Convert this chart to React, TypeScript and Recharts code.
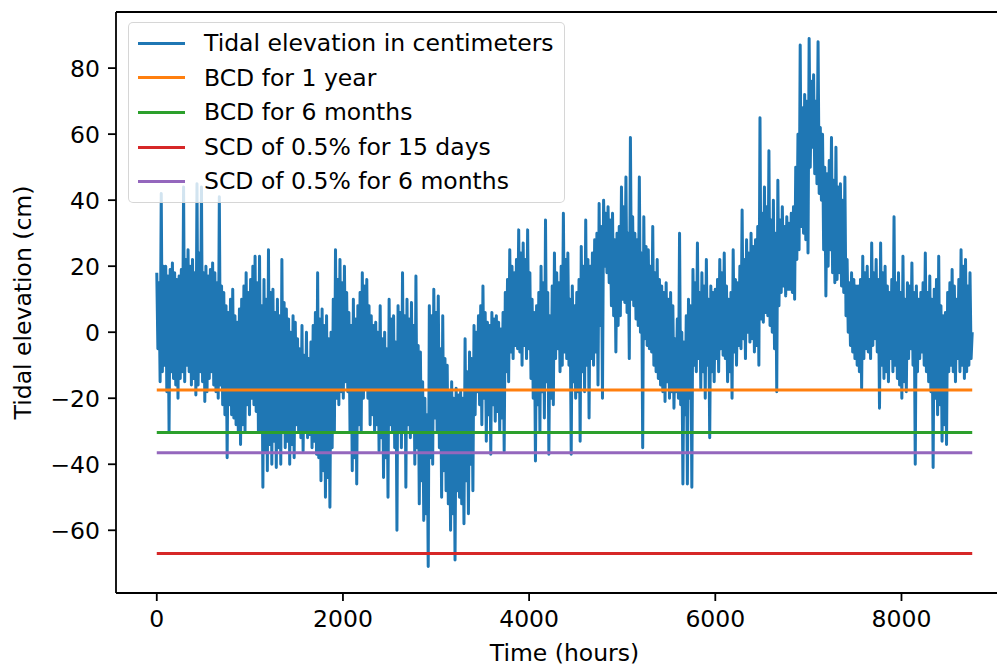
import React from "react";
import { LineChart, Line, XAxis, YAxis, Legend, ReferenceLine } from "recharts";

// gauge record: one high and one low reading per day (cm)
const HOUR_STEP = 24;

const highCm = [
  18, 15, 42, 20, 20, 17, 19, 21, 18, 16, 17, 19, 44, 22, 25, 20, 22, 18, 45, 24,
  44, 18, 20, 17, 19, 21, 18, 15, 41, 14, 12, 8, 6, 10, 13, 5, 3, 7, 10, 14,
  18, 12, 16, 20, 23, 15,
  23, 8, 16, 10, 25, 12, 13, 6, 10, 5, 22, 9, 7, 4, 0, 5, 3, -2, -5, 2,
  -7, 0, -8, -3, 2, 6, 18, 4, 7, 2, 5, -2, 0, 10, 25, 16, 22, 15, 20, 12,
  6, 2, 10, 4, 8, 12, 18, 14,
  16, 8, 5, 2, 3, 0, 8, -2, 0, -5, 10, 4, 5, -3, 8, 6, 18, 5, 10, 4,
  9, 2, 17, -4, -6, -15, -20, -25, 8, 5, 13, 6, 11, -5, 5, -8, -10, -18, -15, -20,
  -17, -19, -18, -20, -2, -12, -6, -8,
  2, 0, 5, 8, 14, 6, 3, 2, 6, 4, 5, 3, 1, 6, 12, 16, 25, 20, 18, 22,
  31, 24, 27, 22, 31, 18, 10, 6, 8, 12, 20, 15, 34, 12, 5, 14, 24, 18, 15, 20,
  36, 22, 24,
  10, 14, 8, 12, 16, 26, 20, 34, 22, 20, 24, 28, 30, 39, 32, 40, 36, 38, 34, 36,
  28, 30, 32, 44, 38, 47, 30, 59, 35, 30, 28, 47, 24, 35, 26, 25, 20, 32, 18, 22,
  16, 14, 12, 15, 10, 12, 8,
  -2, 4, 30, 0, -3, 5, 10, 8, 19, 15, 27, 12, 18, 14, 22, 10, 14, 12, 13, 16,
  22, 18, 24, 14, 10, 12, 25, 16, 15, 20, 37, 22, 28, 24, 30, 26, 28, 32, 65, 36,
  44, 38, 55, 34, 40, 30, 46,
  34, 38, 32, 35, 33, 36, 38, 50, 60, 87, 68, 72, 70, 89, 76, 78, 70, 88, 62, 60,
  50, 48, 52, 59, 46, 56, 44, 45, 40, 47, 22, 15, 18, 16, 14, 14, 16, 23, 18, 20,
  16, 27, 18, 22, 16,
  27, 18, 20, 14, 12, 16, 35, 15, 18, 12, 23, 10, 15, 14, 21, 12, 14, 10, 12, 15,
  24, 12, 17, 10, 13, 16, 23, 8, 5, 6, 12, 15, 19, 14, 10, 16, 25, 20, 22, 14,
  18, 0,
];

const lowCm = [
  -5, -15, -12, -10, -18, -30, -12, -14, -16, -20, -14, -12, -15, -10, -12, -16, -14, -19, -16, -12,
  -15, -21, -18, -14, -12, -16, -18, -20, -16, -22, -25, -38, -22, -25, -26, -28, -30, -34, -28, -30,
  -22, -25, -20, -22, -24, -30,
  -30, -47, -36, -42, -34, -40, -33, -41, -35, -40, -30, -35, -33, -40, -34, -38, -28, -30, -32, -36,
  -30, -32, -31, -35, -33, -37, -38, -45, -42, -50, -44, -53, -35, -30, -20, -22, -18, -20, -15, -18,
  -30, -42, -38, -46, -28, -30, -20, -17,
  -20, -28, -25, -30, -28, -36, -32, -44, -38, -50, -28, -30, -35, -60, -30, -35, -30, -47, -28, -32,
  -30, -40, -35, -52, -45, -57, -55, -71, -38, -40, -26, -30, -35, -50, -42, -48, -52, -60, -55, -69,
  -48, -50, -52, -58, -45, -55, -40, -48,
  -25, -18, -22, -28, -20, -33, -25, -37, -22, -27, -24, -30, -26, -36, -12, -15, -6, -8, -4, -5,
  -6, -10, -4, -8, -5, -14, -20, -39, -22, -30, -18, -26, -15, -37, -20, -22, -8, -5, -12, -10,
  -6, -8, -10,
  -37, -15, -20, -18, -33, -12, -18, -10, -26, -8, -10, -6, -16, 2, -20, 20, 18, 15, 8, 5,
  -6, 2, 5, 10, 9, 6, -8, 10, 8, 4, 2, 0, -35, -2, -4, -5, -6, -10, -12, -14,
  -16, -18, -21, -15, -20, -18, -23,
  -18, -20, -22, -46, -25, -46, -20, -47, -10, -12, -8, -17, -12, -20, -10, -32, -12, -15, -8, -12,
  -5, -7, -8, -15, -12, -20, -6, -10, -4, -5, -2, -8, 0, -3, -2, -6, -4, -10, 4, 3,
  6, 5, 2, 0, -5, -18, 8,
  12, 14, 11, 13, 13, 12, 10, 22, 25, 32, 30, 28, 24, 50, 56, 48, 45, 42, 40, 25,
  11, 20, 25, 18, 15, 16, 18, 14, 12, 5, 0, -4, -6, -8, -10, -12, -17, -8, -5, -6,
  -8, -4, -2, -6, -23,
  -10, -14, -12, -15, -8, -12, -10, -14, -16, -20, -15, -18, -8, -5, -10, -40, -12, -8, -6, -10,
  -12, -15, -18, -41, -20, -25, -22, -33, -28, -34, -12, -10, -12, -15, -8, -12, -10, -14, -12, -10,
  -8,
];

const tideName = "Tidal elevation in centimeters";
const tideColor = "#1f77b4";

const thresholdNames = [
  "BCD for 1 year",
  "BCD for 6 months",
  "SCD of 0.5% for 15 days",
  "SCD of 0.5% for 6 months",
];
const thresholdValues = [-17.5, -30.4, -67.0, -36.5];
const thresholdColors = ["#ff7f0e", "#2ca02c", "#d62728", "#9467bd"];

const xTicks = [0, 2000, 4000, 6000, 8000];
const yTicks = [-60, -40, -20, 0, 20, 40, 60, 80];

const FONT = '"DejaVu Sans", sans-serif';
const FS = 23.5;

// high reading at the start of each day, low reading half a day later
const tideData: { hour: number; tide: number }[] = [];
highCm.forEach((hi, day) => {
  tideData.push({ hour: day * HOUR_STEP, tide: hi });
  if (day < lowCm.length) tideData.push({ hour: day * HOUR_STEP + HOUR_STEP / 2, tide: lowCm[day] });
});
const lastHour = tideData[tideData.length - 1].hour;

// matplotlib style 5% margins
const allValues = [...highCm, ...lowCm, ...thresholdValues];
const yMin = Math.min(...allValues);
const yMax = Math.max(...allValues);
const xDomain = [-0.05 * lastHour, 1.05 * lastHour];
const yDomain = [yMin - 0.05 * (yMax - yMin), yMax + 0.05 * (yMax - yMin)];

const legendItems = [
  { name: tideName, color: tideColor },
  ...thresholdNames.map((name, i) => ({ name, color: thresholdColors[i] })),
];

const fmt = (v: number) => (v < 0 ? `\u2212${Math.abs(v)}` : `${v}`);

const XTick = (props: any) => {
  const { x, y, payload } = props;
  return (
    <text x={x} y={y} dy={18} textAnchor="middle" fill="#000" fontSize={FS} fontFamily={FONT}>
      {fmt(payload.value)}
    </text>
  );
};

const YTick = (props: any) => {
  const { x, y, payload } = props;
  return (
    <text x={x} y={y} dy={8.9} textAnchor="end" fill="#000" fontSize={FS} fontFamily={FONT}>
      {fmt(payload.value)}
    </text>
  );
};

const XLabel = (props: any) => {
  const vb = props.viewBox;
  return (
    <text x={vb.x + vb.width / 2} y={661} textAnchor="middle" fill="#000" fontSize={FS} fontFamily={FONT}>
      Time (hours)
    </text>
  );
};

const YLabel = (props: any) => {
  const vb = props.viewBox;
  const cy = vb.y + vb.height / 2;
  return (
    <text x={31} y={cy} transform={`rotate(-90, 31, ${cy})`} textAnchor="middle" fill="#000" fontSize={FS} fontFamily={FONT}>
      Tidal elevation (cm)
    </text>
  );
};

const renderLegend = () => (
  <div
    style={{
      background: "rgba(255,255,255,0.8)",
      border: "1px solid rgba(204,204,204,0.8)",
      borderRadius: 5,
      padding: "9px 10px 9px 9px",
      fontFamily: FONT,
      fontSize: FS,
      color: "#000",
      lineHeight: "22.7px",
    }}
  >
    {legendItems.map((item, i) => (
      <div
        key={item.name}
        style={{ display: "flex", alignItems: "center", height: 22.7, marginTop: i ? 11.9 : 0 }}
      >
        <span style={{ display: "inline-block", width: 47, height: 3, background: item.color, marginRight: 19.5 }} />
        <span style={{ whiteSpace: "nowrap" }}>{item.name}</span>
      </div>
    ))}
  </div>
);

export default function App() {
  return (
    <div style={{ position: "fixed", left: 0, top: 0, width: 997, height: 666, overflow: "hidden", background: "#fff" }}>
      <LineChart width={1020} height={666} data={tideData} margin={{ top: 12, right: 7, bottom: 0, left: 0 }}>
        <XAxis
          dataKey="hour"
          type="number"
          domain={xDomain}
          ticks={xTicks}
          interval={0}
          allowDataOverflow
          height={73}
          tickSize={8}
          tickMargin={8}
          axisLine={{ stroke: "#000", strokeWidth: 1.8 }}
          tickLine={{ stroke: "#000", strokeWidth: 1.8 }}
          tick={XTick}
          label={{ value: "Time (hours)", content: XLabel }}
        />
        <YAxis
          type="number"
          domain={yDomain}
          ticks={yTicks}
          interval={0}
          allowDataOverflow
          width={116}
          tickSize={8}
          tickMargin={8}
          axisLine={{ stroke: "#000", strokeWidth: 1.8 }}
          tickLine={{ stroke: "#000", strokeWidth: 1.8 }}
          tick={YTick}
          label={{ value: "Tidal elevation (cm)", content: YLabel }}
        />
        <ReferenceLine y={yDomain[1]} stroke="#000" strokeWidth={1.8} />
        <Line
          type="linear"
          dataKey="tide"
          name={tideName}
          stroke={tideColor}
          strokeWidth={3}
          strokeLinejoin="round"
          dot={false}
          activeDot={false}
          isAnimationActive={false}
        />
        {thresholdNames.map((name, i) => (
          <Line
            key={name}
            type="linear"
            data={[
              { hour: 0, level: thresholdValues[i] },
              { hour: lastHour, level: thresholdValues[i] },
            ]}
            dataKey="level"
            name={name}
            stroke={thresholdColors[i]}
            strokeWidth={3}
            dot={false}
            activeDot={false}
            isAnimationActive={false}
          />
        ))}
        <Legend
          layout="horizontal"
          verticalAlign="middle"
          align="center"
          content={renderLegend}
          wrapperStyle={{ left: 127.5, top: 22, width: "auto", height: "auto" }}
        />
      </LineChart>
    </div>
  );
}
